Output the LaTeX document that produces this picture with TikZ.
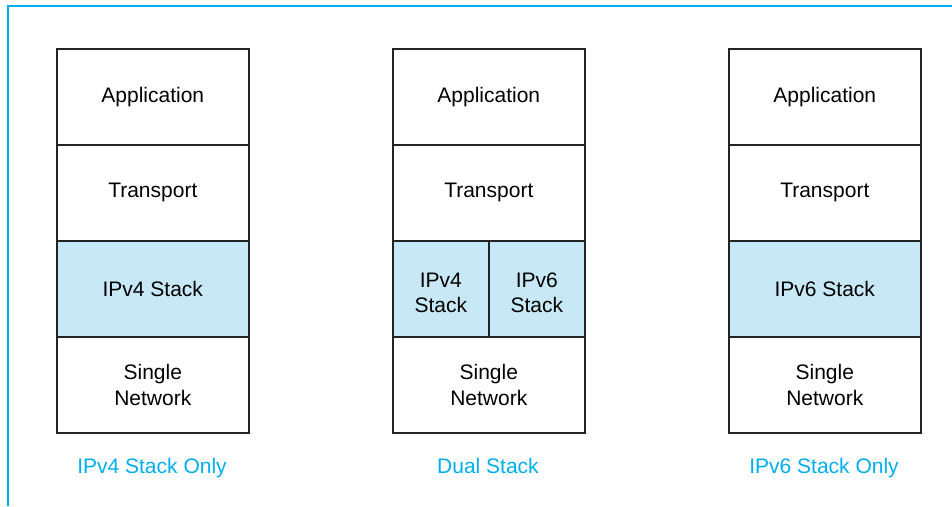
\documentclass[tikz,border=0pt]{standalone}
\usepackage{fontspec}
\setmainfont{Liberation Sans}
\definecolor{framecyan}{RGB}{0,174,239}
\definecolor{stackfill}{RGB}{199,232,247}
\definecolor{boxline}{RGB}{35,35,35}
\begin{document}
\begin{tikzpicture}[x=1pt,y=-1pt,
  layer/.style={draw=boxline,line width=1.6pt,minimum width=192pt,minimum height=96pt,
    inner sep=0pt,align=center,font=\fontsize{21}{25.5}\selectfont,anchor=north west},
  halflayer/.style={layer,minimum width=96pt},
  ipfill/.style={fill=stackfill},
  caption/.style={text=framecyan,font=\fontsize{21}{25.5}\selectfont,anchor=base}]
\useasboundingbox (0,0) rectangle (952,506);
% outer frame: top and left edges only
\draw[framecyan,line width=2pt] (8,506) -- (8,6) -- (952,6);

% IPv4-only stack
\node[layer] (a1) at (56,48) {Application};
\node[layer] (t1) at (56,144) {Transport};
\node[layer,ipfill] (s1) at (56,240) {IPv4 Stack};
\node[layer] (n1) at (56,336) {Single\\Network};
\node[caption] (c1) at (152,473) {IPv4 Stack Only};

% dual stack
\node[layer] (a2) at (392,48) {Application};
\node[layer] (t2) at (392,144) {Transport};
\node[halflayer,ipfill] (s2a) at (392,240) {\rule{0pt}{23pt}IPv4\\Stack};
\node[halflayer,ipfill] (s2b) at (488,240) {\rule{0pt}{23pt}IPv6\\Stack};
\node[layer] (n2) at (392,336) {Single\\Network};
\node[caption] (c2) at (488,473) {Dual Stack};

% IPv6-only stack
\node[layer] (a3) at (728,48) {Application};
\node[layer] (t3) at (728,144) {Transport};
\node[layer,ipfill] (s3) at (728,240) {IPv6 Stack};
\node[layer] (n3) at (728,336) {Single\\Network};
\node[caption] (c3) at (824,473) {IPv6 Stack Only};
\end{tikzpicture}
\end{document}
